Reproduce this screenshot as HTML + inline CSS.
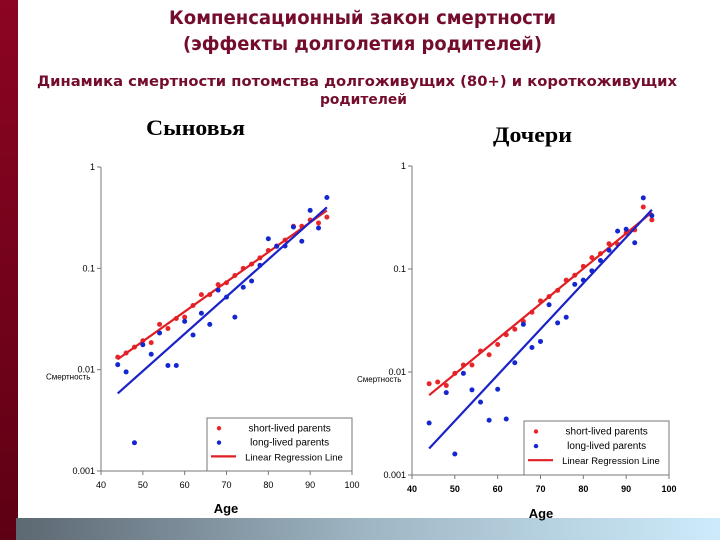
<!DOCTYPE html>
<html><head><meta charset="utf-8">
<style>
html,body{margin:0;padding:0;width:720px;height:540px;overflow:hidden;background:#fff;font-family:"Liberation Sans","DejaVu Sans",sans-serif}
</style></head>
<body>
<svg id="slide" width="720" height="540" xmlns="http://www.w3.org/2000/svg">
<defs>
<linearGradient id="lbar" x1="0" y1="0" x2="0" y2="1"><stop offset="0" stop-color="#8c0522"/><stop offset="1" stop-color="#5e0014"/></linearGradient>
<linearGradient id="bbar" x1="0" y1="0" x2="1" y2="0"><stop offset="0" stop-color="#5c6872"/><stop offset="0.5" stop-color="#9fb6c4"/><stop offset="1" stop-color="#cdebfb"/></linearGradient>
</defs>
<rect x="0" y="0" width="18" height="540" fill="url(#lbar)"/>
<rect x="16" y="518" width="704" height="22" fill="url(#bbar)"/>
<g font-family="'DejaVu Sans','Liberation Sans',sans-serif" font-weight="bold" fill="#740d2c">
<text x="169" y="24" font-size="19" textLength="387" lengthAdjust="spacingAndGlyphs">Компенсационный закон смертности</text>
<text x="183" y="50" font-size="19" textLength="359" lengthAdjust="spacingAndGlyphs">(эффекты долголетия родителей)</text>
<text x="37" y="86" font-size="14" textLength="640" lengthAdjust="spacingAndGlyphs">Динамика смертности потомства долгоживущих (80+) и короткоживущих</text>
<text x="320" y="104" font-size="14" textLength="87" lengthAdjust="spacingAndGlyphs">родителей</text>
</g>
<text x="146" y="135" font-size="22" font-weight="bold" textLength="99" lengthAdjust="spacingAndGlyphs" font-family="'Liberation Serif',serif">Сыновья</text>
<text x="493" y="142" font-size="22" font-weight="bold" textLength="79" lengthAdjust="spacingAndGlyphs" font-family="'Liberation Serif',serif">Дочери</text>
<g id="c1"></g>
<g id="c2"></g>
</svg>
<script>
const ages = [44,46,48,50,52,54,56,58,60,62,64,66,68,70,72,74,76,78,80,82,84,86,88,90,92,94];
const sonsShort = [0.0133,0.0146,0.0167,0.0193,0.0185,0.028,0.0255,0.032,0.033,0.043,0.055,0.055,0.069,0.072,0.085,0.1,0.11,0.127,0.15,0.166,0.19,0.26,0.26,0.3,0.28,0.32];
const sonsLong = [0.0112,0.0095,0.0019,0.0176,0.0142,0.023,0.011,0.011,0.03,0.022,0.036,0.028,0.061,0.052,0.033,0.065,0.075,0.107,0.196,0.165,0.166,0.256,0.185,0.373,0.25,0.5];
const agesD = [44,46,48,50,52,54,56,58,60,62,64,66,68,70,72,74,76,78,80,82,84,86,88,90,92,94,96];
const daughtersShort = [0.0077,0.008,0.0074,0.0097,0.0117,0.0117,0.016,0.0147,0.0185,0.023,0.026,0.031,0.038,0.049,0.054,0.062,0.078,0.087,0.106,0.129,0.141,0.176,0.174,0.224,0.24,0.4,0.3];
const daughtersLong = [0.0032,null,0.0063,0.0016,0.0097,0.0067,0.0051,0.0034,0.0068,0.0035,0.0123,0.029,0.0173,0.0198,0.045,0.03,0.034,0.071,0.078,0.096,0.121,0.152,0.233,0.243,0.18,0.49,0.33];
const xTicks = [40,50,60,70,80,90,100];
const yTicks = [1,0.1,0.01,0.001];
const yTickLabels = ["1","0.1","0.01","0.001"];
const legendLabels = ["short-lived parents","long-lived parents","Linear Regression Line"];

const NS="http://www.w3.org/2000/svg";
function mk(parent,tag,attrs){const e=document.createElementNS(NS,tag);for(const k in attrs)e.setAttribute(k,attrs[k]);parent.appendChild(e);return e;}
function fit(xs,ys){let n=0,sx=0,sy=0,sxx=0,sxy=0;xs.forEach((x,i)=>{const y=ys[i];if(y==null)return;const ly=Math.log10(y);n++;sx+=x;sy+=ly;sxx+=x*x;sxy+=x*ly;});const b=(n*sxy-sx*sy)/(n*sxx-sx*sx);const a=(sy-b*sx)/n;return x=>Math.pow(10,a+b*x);}

function chart(g,cfg){
  const X=v=>cfg.x0+(v-40)/60*(cfg.x1-cfg.x0);
  const Y=v=>cfg.yTop+(-Math.log10(v))/3*(cfg.yBot-cfg.yTop);
  let e=mk(g,'line',{x1:cfg.x0,y1:cfg.yTop,x2:cfg.x0,y2:cfg.yBot,stroke:'#777','stroke-width':1});
  
  
  e=mk(g,'line',{x1:cfg.x0,y1:cfg.yBot,x2:cfg.x1,y2:cfg.yBot,stroke:'#777','stroke-width':1});
  
  
  yTicks.forEach((t,i)=>{
    mk(g,'line',{x1:cfg.x0-4,y1:Y(t),x2:cfg.x0,y2:Y(t),stroke:'#777'});
    const tx=mk(g,'text',{x:cfg.x0-6,y:Y(t)+3,'font-size':9,'text-anchor':'end',fill:'#000'});
    tx.textContent=yTickLabels[i];
    
    
  });
  xTicks.forEach(t=>{
    mk(g,'line',{x1:X(t),y1:cfg.yBot,x2:X(t),y2:cfg.yBot+4,stroke:'#777'});
    const tx=mk(g,'text',{x:X(t),y:cfg.yBot+17,'font-size':9,'text-anchor':'middle',fill:'#000','font-weight':cfg.bold?'bold':'normal'});
    tx.textContent=t;
    
    
  });
  const at=mk(g,'text',{x:cfg.ageX,y:cfg.ageY,'font-size':13,'font-weight':'bold','text-anchor':'middle'});
  at.textContent='Age';
  
  
  const yl=mk(g,'text',{x:cfg.x0-55,y:Y(0.01)+10,'font-size':8,fill:'#000'});
  yl.textContent='Смертность';
  
  
  const fs=fit(cfg.ages,cfg.short), fl=fit(cfg.ages,cfg.long);
  const a0=cfg.ages[0],a1=cfg.ages[cfg.ages.length-1];
  cfg.ages.forEach((a,i)=>{
    const v=cfg.short[i]; if(v==null)return;
    const c=mk(g,'circle',{cx:X(a),cy:Y(v),r:2.5,fill:'#e8262a'});
    
    
  });
  let l=mk(g,'line',{x1:X(a0),y1:Y(fs(a0)),x2:X(a1),y2:Y(fs(a1)),stroke:'#e01f24','stroke-width':2.2});
  
  
  l=mk(g,'line',{x1:X(a0),y1:Y(fl(a0)),x2:X(a1),y2:Y(fl(a1)),stroke:'#1a22c8','stroke-width':2.2});
  
  
  cfg.ages.forEach((a,i)=>{
    const v=cfg.long[i]; if(v==null)return;
    const c=mk(g,'circle',{cx:X(a),cy:Y(v),r:2.5,fill:'#1326d0'});
    
    
  });
  const lg=mk(g,'g',{});
  
  
  const lx=cfg.lx0,ly=cfg.ly0,lw=cfg.x1-cfg.lx0,lh=cfg.yBot-cfg.ly0;
  mk(lg,'rect',{x:lx,y:ly,width:lw,height:lh,fill:'#fff',stroke:'#777'});
  const rows=[ly+lh*0.25,ly+lh*0.52,ly+lh*0.8];
  mk(lg,'circle',{cx:lx+12,cy:rows[0]-3,r:2.2,fill:'#e8262a'});
  mk(lg,'circle',{cx:lx+12,cy:rows[1]-3,r:2.2,fill:'#1326d0'});
  mk(lg,'line',{x1:lx+4,y1:rows[2]-4,x2:lx+29,y2:rows[2]-4,stroke:'#e01f24','stroke-width':2.2});
  legendLabels.forEach((s,i)=>{
    const t=mk(lg,'text',{x:i<2?lx+lw*0.57:lx+lw*0.6,y:rows[i],'font-size':i<2?10:9.5,'text-anchor':'middle',fill:'#000'});
    t.textContent=s;
    
    
  });
}
chart(document.getElementById('c1'),{x0:101,x1:352,yTop:167,yBot:471,lx0:207,ly0:418,ages:ages,short:sonsShort,long:sonsLong,ageX:226,ageY:513,bold:false});
chart(document.getElementById('c2'),{x0:412,x1:669,yTop:166,yBot:475,lx0:524,ly0:421,ages:agesD,short:daughtersShort,long:daughtersLong,ageX:541,ageY:518,bold:true});
</script>
</body></html>
